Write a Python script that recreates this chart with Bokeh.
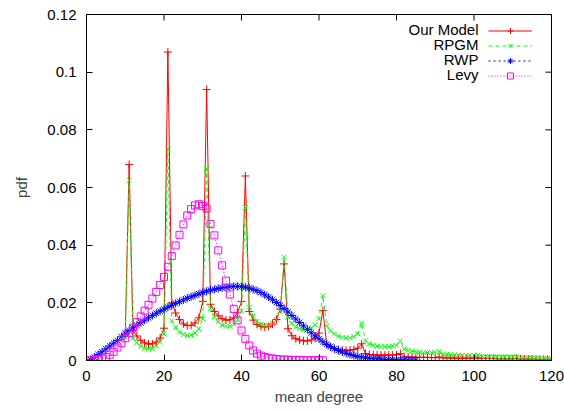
from bokeh.plotting import figure
from bokeh.models import FixedTicker, Legend, LegendItem, Label, Range1d
from bokeh.embed import file_html
from bokeh.resources import INLINE

FONT = "Liberation Sans"

x_ticks = [0, 20, 40, 60, 80, 100, 120]
x_tick_labels = ["0", "20", "40", "60", "80", "100", "120"]
y_ticks = [0, 0.02, 0.04, 0.06, 0.08, 0.1, 0.12]
y_tick_labels = ["0", "0.02", "0.04", "0.06", "0.08", "0.1", "0.12"]

series_names = ["Our Model", "RPGM", "RWP", "Levy"]

model_x = list(range(10, 121))
model_y = [
    0.0090, 0.0680, 0.0105, 0.0085, 0.0070, 0.0061, 0.0057, 0.0058, 0.0064, 0.0078,  # 10-19
    0.0112, 0.1070, 0.0200, 0.0165, 0.0142, 0.0127, 0.0121, 0.0122, 0.0130, 0.0148,  # 20-29
    0.0205, 0.0940, 0.0195, 0.0170, 0.0155, 0.0145, 0.0140, 0.0141, 0.0148, 0.0165,  # 30-39
    0.0205, 0.0640, 0.0170, 0.0140, 0.0125, 0.0118, 0.0116, 0.0118, 0.0126, 0.0142,  # 40-49
    0.0178, 0.0335, 0.0110, 0.0086, 0.0076, 0.0071, 0.0068, 0.0068, 0.0071, 0.0078,  # 50-59
    0.0095, 0.0173, 0.0056, 0.0046, 0.0041, 0.0038, 0.0036, 0.0035, 0.0036, 0.0038,  # 60-69
    0.0043, 0.0058, 0.0024, 0.0021, 0.0020, 0.0019, 0.0019, 0.0019, 0.0019, 0.0019,  # 70-79
    0.0020, 0.0024, 0.0013, 0.0012, 0.0012, 0.0011, 0.0011, 0.0011, 0.0011, 0.0010,  # 80-89
    0.0010, 0.0012, 0.0009, 0.0009, 0.0009, 0.0008, 0.0008, 0.0008, 0.0008, 0.0008,  # 90-99
    0.0008, 0.0009, 0.0007, 0.0007, 0.0007, 0.0007, 0.0006, 0.0006, 0.0006, 0.0006,  # 100-109
    0.0006, 0.0007, 0.0005, 0.0005, 0.0005, 0.0005, 0.0004, 0.0004, 0.0004, 0.0004,  # 110-119
    0.0004,                                                                          # 120
]

rpgm_x = list(range(10, 121))
rpgm_y = [
    0.0080, 0.0625, 0.0078, 0.0062, 0.0050, 0.0043, 0.0041, 0.0043, 0.0050, 0.0065,  # 10-19
    0.0092, 0.0735, 0.0138, 0.0115, 0.0099, 0.0090, 0.0087, 0.0088, 0.0095, 0.0110,  # 20-29
    0.0145, 0.0665, 0.0180, 0.0152, 0.0134, 0.0123, 0.0118, 0.0119, 0.0126, 0.0142,  # 30-39
    0.0172, 0.0530, 0.0185, 0.0155, 0.0136, 0.0126, 0.0120, 0.0121, 0.0128, 0.0142,  # 40-49
    0.0170, 0.0358, 0.0150, 0.0128, 0.0116, 0.0110, 0.0107, 0.0108, 0.0113, 0.0123,  # 50-59
    0.0145, 0.0225, 0.0120, 0.0103, 0.0092, 0.0085, 0.0080, 0.0078, 0.0079, 0.0083,  # 60-69
    0.0093, 0.0129, 0.0068, 0.0058, 0.0053, 0.0050, 0.0048, 0.0048, 0.0048, 0.0050,  # 70-79
    0.0053, 0.0067, 0.0040, 0.0035, 0.0032, 0.0030, 0.0029, 0.0028, 0.0028, 0.0028,  # 80-89
    0.0029, 0.0031, 0.0023, 0.0021, 0.0020, 0.0019, 0.0019, 0.0018, 0.0018, 0.0018,  # 90-99
    0.0018, 0.0019, 0.0015, 0.0014, 0.0013, 0.0013, 0.0012, 0.0012, 0.0012, 0.0012,  # 100-109
    0.0012, 0.0013, 0.0010, 0.0009, 0.0009, 0.0008, 0.0008, 0.0008, 0.0007, 0.0007,  # 110-119
    0.0006,                                                                          # 120
]

rwp_x = list(range(1, 86))
rwp_y = [
    0.0004, 0.0012, 0.0021, 0.0030, 0.0040, 0.0050, 0.0060, 0.0070, 0.0082,          # 1-9
    0.0095, 0.0104, 0.0113, 0.0122, 0.0131, 0.0140, 0.0148, 0.0156, 0.0164, 0.0171,  # 10-19
    0.0178, 0.0185, 0.0192, 0.0198, 0.0204, 0.0210, 0.0216, 0.0221, 0.0226, 0.0231,  # 20-29
    0.0236, 0.0240, 0.0244, 0.0247, 0.0250, 0.0252, 0.0254, 0.0256, 0.0257, 0.0257,  # 30-39
    0.0256, 0.0254, 0.0251, 0.0247, 0.0242, 0.0236, 0.0228, 0.0220, 0.0211, 0.0201,  # 40-49
    0.0191, 0.0180, 0.0168, 0.0156, 0.0144, 0.0132, 0.0120, 0.0108, 0.0096, 0.0085,  # 50-59
    0.0075, 0.0065, 0.0056, 0.0048, 0.0041, 0.0035, 0.0030, 0.0025, 0.0021, 0.0017,  # 60-69
    0.0014, 0.0012, 0.0010, 0.0008, 0.0007, 0.0006, 0.0005, 0.0004, 0.0003, 0.0003,  # 70-79
    0.0002, 0.0002, 0.0002, 0.0001, 0.0001, 0.0001,                                  # 80-85
]

levy_x = list(range(1, 62))
levy_y = [
    0.0001, 0.0002, 0.0004, 0.0007, 0.0012, 0.0020, 0.0030, 0.0045, 0.0060,          # 1-9
    0.0077, 0.0095, 0.0114, 0.0133, 0.0153, 0.0173, 0.0193, 0.0215, 0.0238, 0.0262,  # 10-19
    0.0290, 0.0325, 0.0362, 0.0399, 0.0436, 0.0472, 0.0503, 0.0525, 0.0538, 0.0542,  # 20-29
    0.0536, 0.0527, 0.0474, 0.0434, 0.0382, 0.0330, 0.0277, 0.0229, 0.0179, 0.0139,  # 30-39
    0.0104, 0.0075, 0.0052, 0.0035, 0.0024, 0.0017, 0.0012, 0.0009, 0.0007, 0.0005,  # 40-49
    0.0004, 0.0003, 0.0003, 0.0002, 0.0002, 0.0002, 0.0001, 0.0001, 0.0001, 0.0001,  # 50-59
    0.0001, 0.0001,                                                                  # 60-61
]

X0, X1, Y0, Y1 = 0, 120, 0, 0.12
W, H = 564, 412
BL, BR, BT, BB = 86, 13, 14, 52
TICK = 6

p = figure(width=W, height=H, output_backend="svg", toolbar_location=None,
           x_range=Range1d(X0, X1), y_range=Range1d(Y0, Y1),
           min_border_left=BL, min_border_right=BR, min_border_top=BT, min_border_bottom=BB,
           x_axis_label="mean degree", y_axis_label="pdf")
p.background_fill_color = "white"
p.border_fill_color = "white"
p.outline_line_color = "black"
p.outline_line_width = 1
p.xgrid.visible = False
p.ygrid.visible = False

# series
r1l = p.line(model_x, model_y, line_color="#ff0000", line_width=1)
r1p = p.scatter(model_x, model_y, marker="cross", size=8, line_color="#ff0000", line_width=1)
r2l = p.line(rpgm_x, rpgm_y, line_color="#00ff00", line_width=1, line_dash="4 3")
r2p = p.scatter(rpgm_x, rpgm_y, marker="x", size=7, line_color="#00ff00", line_width=1)
r3l = p.line(rwp_x, rwp_y, line_color="#0000ff", line_width=1, line_dash="2 3")
r3p = p.scatter(rwp_x, rwp_y, marker="asterisk", size=8, line_color="#0000ff", line_width=1)
r4l = p.line(levy_x, levy_y, line_color="#ff00ff", line_width=1, line_dash="1 2")
r4p = p.scatter(levy_x, levy_y, marker="square", size=7, line_color="#ff00ff",
                fill_color=None, line_width=1)

def style_axis(ax):
    ax.axis_line_color = "black"
    ax.axis_line_width = 1
    ax.major_tick_in = TICK
    ax.major_tick_out = 0
    ax.major_tick_line_color = "black"
    ax.minor_tick_line_color = None
    ax.major_label_text_font = FONT
    ax.major_label_text_font_size = "15px"
    ax.major_label_text_color = "black"
    ax.axis_label_text_font = FONT
    ax.axis_label_text_font_style = "normal"
    ax.axis_label_text_font_size = "15px"

xa = p.xaxis[0]
xa.ticker = FixedTicker(ticks=x_ticks)
xa.major_label_overrides = {t: l for t, l in zip(x_ticks, x_tick_labels)}
style_axis(xa)
xa.major_label_standoff = 10
xa.axis_label_standoff = 4

ya = p.yaxis[0]
ya.ticker = FixedTicker(ticks=y_ticks)
ya.major_label_overrides = {t: l for t, l in zip(y_ticks, y_tick_labels)}
style_axis(ya)
ya.major_label_standoff = 10
ya.axis_label_standoff = 14

# mirrored inward ticks on the top and right borders
fw = W - BL - BR
fh = H - BT - BB
ty = TICK * (Y1 - Y0) / fh
tx = TICK * (X1 - X0) / fw
p.segment(x0=x_ticks, y0=[Y1] * len(x_ticks), x1=x_ticks, y1=[Y1 - ty] * len(x_ticks),
          line_color="black", line_width=1)
p.segment(x0=[X1] * len(y_ticks), y0=y_ticks, x1=[X1 - tx] * len(y_ticks), y1=y_ticks,
          line_color="black", line_width=1)

# legend: samples on the right, labels on the left (gnuplot style)
legend = Legend(items=[LegendItem(label=" ", renderers=[a, b]) for a, b in
                       [(r1l, r1p), (r2l, r2p), (r3l, r3p), (r4l, r4p)]],
                location=(402, 277.5), orientation="vertical",
                glyph_width=44, glyph_height=15, label_height=15, spacing=0,
                padding=0, margin=0, border_line_color=None,
                background_fill_alpha=0, label_text_font_size="8px",
                label_standoff=0, label_width=0)
p.add_layout(legend)

row_y = [331, 316, 301, 286]
for name, yy in zip(series_names, row_y):
    p.add_layout(Label(x=392, y=yy, x_units="screen", y_units="screen", text=name,
                       text_align="right", text_baseline="middle",
                       text_font=FONT, text_font_size="15px", text_color="black"))

open("out.html", "w").write(file_html(p, INLINE))
